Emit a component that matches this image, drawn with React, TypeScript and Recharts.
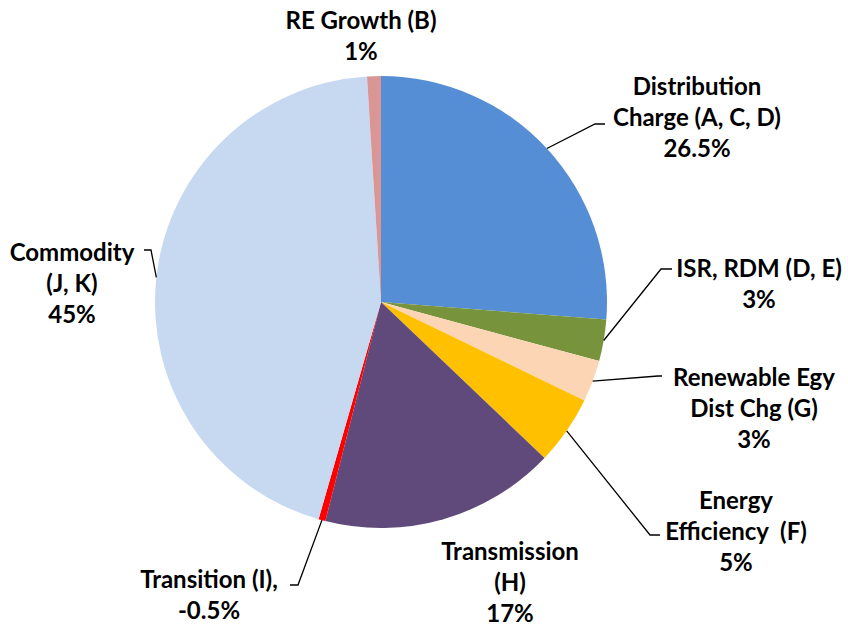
import { PieChart, Pie, Cell } from 'recharts';

const categories = [
  'Distribution Charge (A, C, D)',
  'ISR, RDM (D, E)',
  'Renewable Egy Dist Chg (G)',
  'Energy Efficiency (F)',
  'Transmission (H)',
  'Transition (I)',
  'Commodity (J, K)',
  'RE Growth (B)',
];
const shares = [26.5, 3, 3, 5, 17, -0.5, 45, 1];
const labelLines = [
  ['Distribution', 'Charge (A, C, D)', '26.5%'],
  ['ISR, RDM (D, E)', '3%'],
  ['Renewable Egy', 'Dist Chg (G)', '3%'],
  ['Energy', 'Efficiency\u00A0 (F)', '5%'],
  ['Transmission', '(H)', '17%'],
  ['Transition (I),', '-0.5%'],
  ['Commodity', '(J, K)', '45%'],
  ['RE Growth (B)', '1%'],
];
const colors = ['#558ED5', '#77933C', '#FCD5B5', '#FFC000', '#604A7B', '#FF0000', '#C6D9F1', '#D99694'];

// label block centre and leader elbow/end, relative to the pie centre
const labelPos = [
  { x: 316, y: -186, elbow: [214, -178], end: [224, -178] },
  { x: 378, y: -19, elbow: [280, -33], end: [291, -33] },
  { x: 373, y: 105, elbow: [277, 74], end: [281, 74] },
  { x: 355, y: 228, elbow: [269, 233], end: [279, 233] },
  { x: 129, y: 279, elbow: null, end: null },
  { x: -172, y: 292, elbow: [-83, 283], end: [-91, 283] },
  { x: -309, y: -20, elbow: [-230, -52], end: [-237, -52] },
  { x: -20, y: -267, elbow: null, end: null },
];

const data = categories.map((name, i) => ({ name, value: Math.abs(shares[i]) }));

const RADIAN = Math.PI / 180;
const LINE_H = 31;

function renderLabel(props: any) {
  const { cx, cy, midAngle, outerRadius, index } = props;
  const pos = labelPos[index];
  const lines = labelLines[index];
  const tx = cx + pos.x;
  const top = cy + pos.y - ((lines.length - 1) * LINE_H) / 2;
  let leader = null;
  if (pos.elbow && pos.end) {
    const sx = cx + outerRadius * Math.cos(-midAngle * RADIAN);
    const sy = cy + outerRadius * Math.sin(-midAngle * RADIAN);
    leader = (
      <polyline
        points={`${sx},${sy} ${cx + pos.elbow[0]},${cy + pos.elbow[1]} ${cx + pos.end[0]},${cy + pos.end[1]}`}
        fill="none"
        stroke="#000"
        strokeWidth={1.3}
      />
    );
  }
  return (
    <g key={`lbl-${index}`}>
      {leader}
      <text x={tx} y={top} textAnchor="middle" fill="#000" fontSize={24} fontWeight="bold" fontFamily="Lato, 'Open Sans', sans-serif">
        {lines.map((l, i) => (
          <tspan key={i} x={tx} y={top + i * LINE_H} dominantBaseline="central">
            {l}
          </tspan>
        ))}
      </text>
    </g>
  );
}

export default function App() {
  return (
    <div style={{ position: 'absolute', left: 0, top: 0, background: '#fff' }}>
      <PieChart width={848} height={627} margin={{ top: 0, right: 0, bottom: 0, left: 0 }}>
        <Pie
          data={data}
          dataKey="value"
          nameKey="name"
          cx={381}
          cy={302}
          outerRadius={226}
          startAngle={90}
          endAngle={-270}
          stroke="none"
          label={renderLabel}
          labelLine={false}
          isAnimationActive={false}
        >
          {data.map((d, i) => (
            <Cell key={d.name} fill={colors[i]} />
          ))}
        </Pie>
      </PieChart>
    </div>
  );
}
